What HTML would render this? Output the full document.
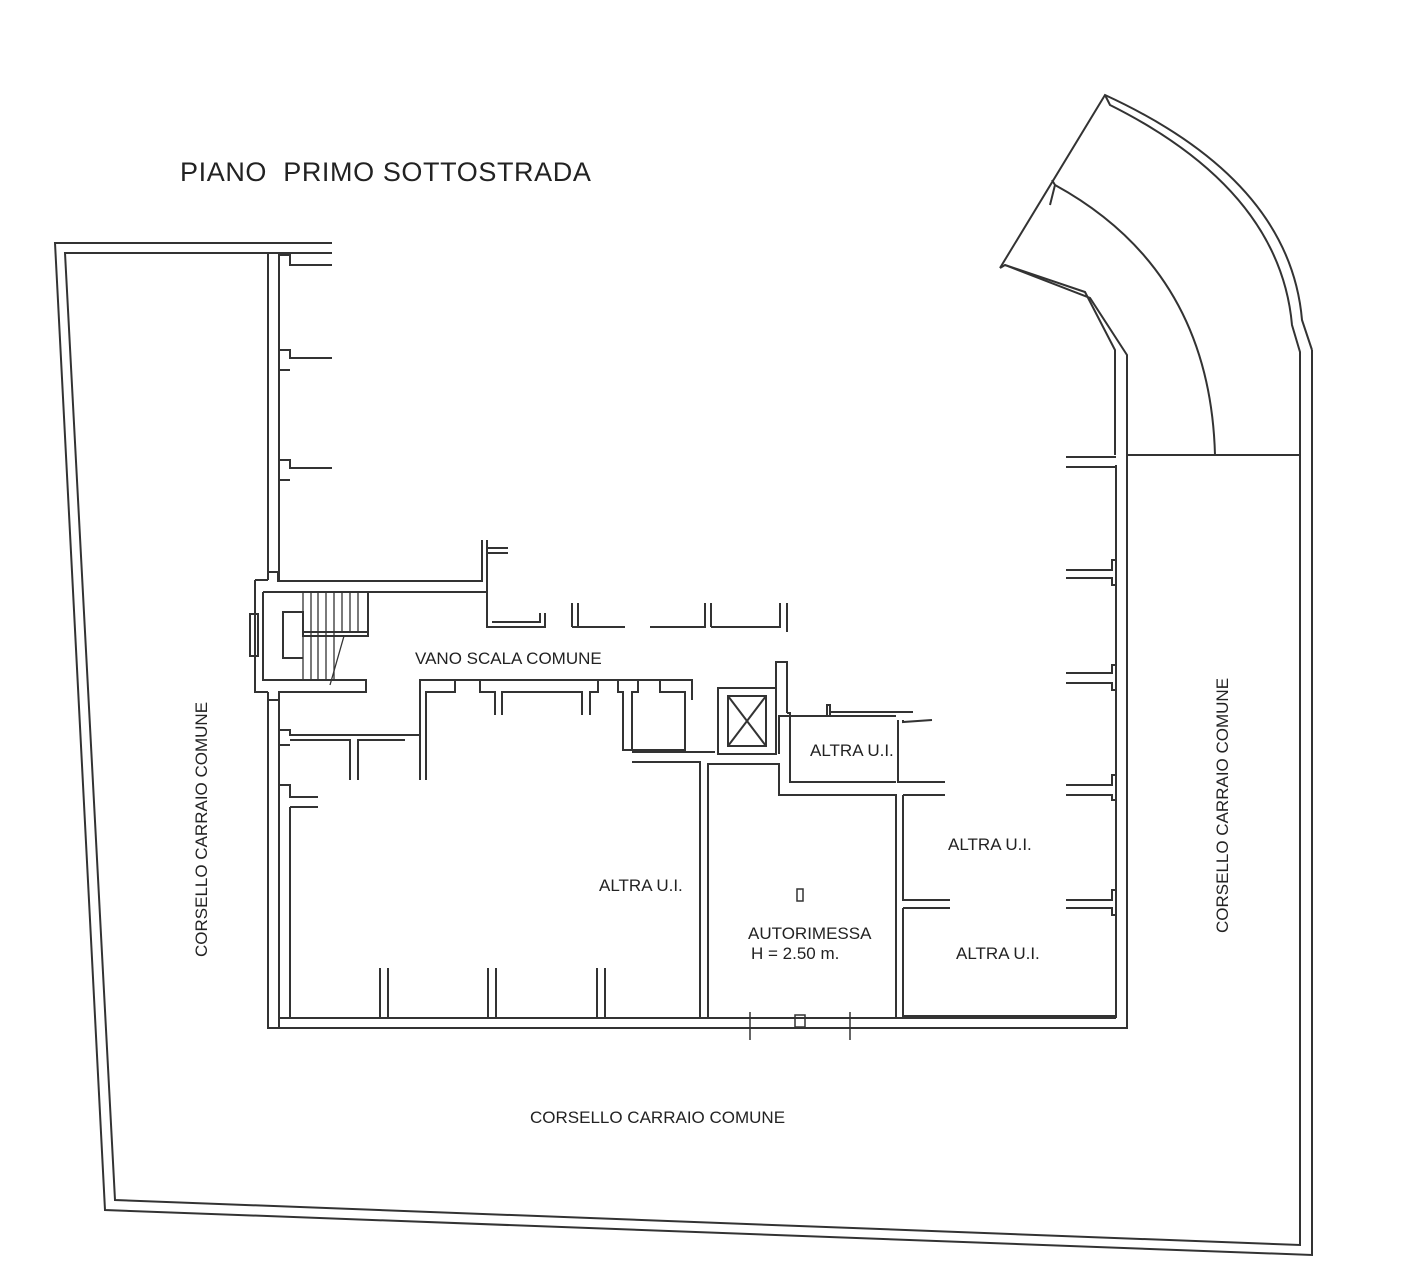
<!DOCTYPE html>
<html><head><meta charset="utf-8"><style>
html,body{margin:0;padding:0;background:#fff}
svg{display:block}
text{font-family:"Liberation Sans",sans-serif;fill:#222}
</style></head><body>
<svg width="1414" height="1280" viewBox="0 0 1414 1280" xmlns="http://www.w3.org/2000/svg" fill="none" stroke="#333" stroke-width="2">
<text x="180" y="181" font-size="27" letter-spacing="0.6" stroke="none" xml:space="preserve">PIANO  PRIMO SOTTOSTRADA</text>

<!-- outer boundary -->
<polyline points="332,243 55,243 105,1210 1312,1255 1312,350"/>
<polyline points="332,253 65,253 115,1200 1300,1245 1300,455"/>

<!-- ramp -->
<path d="M1000,268 L1105,95 Q1290,180 1302,320 L1312,350"/>
<path d="M1105,95 L1110,105 Q1280,190 1292,325 L1300,352 L1300,455"/>
<path d="M1000,268 L1005,265 L1085,292 L1115,350 L1115,455"/>
<path d="M1005,265 L1090,298 L1127,355 L1127,455"/>
<path d="M1055,185 Q1210,270 1215,455"/>
<path d="M1052,180 L1055,185 L1050,205"/>
<line x1="1127" y1="455" x2="1300" y2="455"/>

<!-- building outer walls -->
<polyline points="268,253 268,580"/>
<polyline points="279,253 279,581"/>
<polyline points="268,692 268,1028 1127,1028 1127,455"/>
<polyline points="279,692 279,1018 1116,1018"/>
<line x1="1116" y1="465" x2="1116" y2="1018"/>
<!-- left wall stubs -->
<polyline points="279,255 290,255 290,265 332,265"/><polyline points="279,350 290,350 290,358 332,358 "/><polyline points="290,370 279,370"/>
<polyline points="279,460 290,460 290,468 332,468"/><polyline points="290,480 279,480"/>
<!-- right wall stubs -->
<polyline points="1066,457 1116,457"/><polyline points="1066,467 1116,467"/>
<polyline points="1066,570 1112,570 1112,560 1116,560"/><polyline points="1066,578 1112,578 1112,585 1116,585"/>
<polyline points="1066,673 1112,673 1112,665 1116,665"/><polyline points="1066,683 1112,683 1112,690 1116,690"/>
<polyline points="1066,785 1112,785 1112,775 1116,775"/><polyline points="1066,795 1112,795 1112,800 1116,800"/>
<polyline points="1066,900 1112,900 1112,890 1116,890"/><polyline points="1066,908 1112,908 1112,915 1116,915"/>

<!-- stair box -->
<polyline points="268,580 268,572 278,572 278,581 482,581 482,540"/>
<polyline points="255,580 255,692 268,692"/>
<polyline points="255,580 268,580"/>
<rect x="250" y="614" width="8" height="42"/>
<polyline points="263,592 263,680 366,680 366,692 279,692 279,700 268,700"/>
<polyline points="263,592 487,592 487,540"/>
<polyline points="487,548 508,548"/><polyline points="487,553 508,553"/>
<!-- stairs -->
<polyline points="368,592 368,636 303,636 303,612 283,612 283,658 303,658"/>
<line x1="303" y1="636" x2="368" y2="636"/><line x1="303" y1="632" x2="368" y2="632"/>
<g stroke-width="1.3">
<line x1="303" y1="592" x2="303" y2="680"/><line x1="311" y1="592" x2="311" y2="680"/><line x1="318" y1="592" x2="318" y2="680"/><line x1="326" y1="592" x2="326" y2="680"/><line x1="334" y1="592" x2="334" y2="680"/><line x1="342" y1="592" x2="342" y2="632"/><line x1="350" y1="592" x2="350" y2="632"/><line x1="358" y1="592" x2="358" y2="632"/>
<line x1="344" y1="636" x2="330" y2="685"/>
</g>
<!-- corridor upper walls -->
<polyline points="487,592 487,627 545,627 545,613"/>
<polyline points="540,613 540,622 492,622"/>
<polyline points="572,627 572,603"/><polyline points="578,627 578,603 "/>
<polyline points="572,627 625,627"/><polyline points="650,627 705,627 705,603"/><polyline points="711,627 711,603"/><polyline points="711,627 765,627"/><polyline points="765,627 780,627 780,603"/><polyline points="787,632 787,603"/>
<!-- corridor lower walls -->
<polyline points="420,780 420,680 693,680"/>
<polyline points="426,780 426,692 455,692 455,680"/>
<polyline points="480,680 480,692 495,692 495,715"/><polyline points="502,715 502,692 582,692 582,715"/><polyline points="590,715 590,692 598,692 598,680"/>
<polyline points="618,680 618,692 623,692 623,750 632,750"/><polyline points="632,750 632,692 638,692 638,680"/>
<polyline points="660,680 660,692 685,692 685,750 632,750"/>
<polyline points="692,680 692,700"/>
<!-- lift -->
<rect x="718" y="688" width="58" height="66"/>
<rect x="728" y="696" width="38" height="50"/>
<line x1="728" y1="696" x2="766" y2="746"/><line x1="766" y1="696" x2="728" y2="746"/>
<polyline points="776,688 776,662 787,662 787,713"/><polyline points="787,713 790,713 790,720"/>
<!-- left rooms -->
<polyline points="279,730 290,730 290,735 420,735"/><polyline points="290,745 279,745"/>
<polyline points="290,740 350,740 350,780"/><polyline points="358,780 358,740 405,740"/>
<polyline points="279,785 290,785 290,797 318,797"/><polyline points="290,807 318,807"/><line x1="290" y1="807" x2="290" y2="1018"/><line x1="279" y1="1018" x2="279" y2="1028"/>
<polyline points="380,968 380,1018"/><polyline points="388,968 388,1018"/>
<polyline points="488,968 488,1018"/><polyline points="496,968 496,1018"/>
<polyline points="597,968 597,1018"/><polyline points="605,968 605,1018"/>
<!-- central walls -->
<polyline points="632,762 700,762 700,1018"/>
<polyline points="632,752 715,752 715,752"/>
<polyline points="708,1018 708,764 779,764 779,795 896,795 896,1018"/>
<polyline points="779,754 779,716 896,716"/><polyline points="790,716 790,782 896,782"/>
<polyline points="827,716 827,705 830,705 830,716"/><polyline points="830,712 913,712"/>
<polyline points="898,720 898,782 945,782"/><polyline points="903,720 903,722 932,720"/>
<polyline points="903,795 945,795"/><polyline points="903,795 903,900 950,900"/><polyline points="903,908 950,908"/><polyline points="903,908 903,1016 1116,1016"/>
<rect x="797" y="889" width="6" height="12" stroke-width="1.5"/>
<rect x="795" y="1015" width="10" height="12" stroke-width="1.5"/>
<line x1="750" y1="1012" x2="750" y2="1040" stroke-width="1.5"/><line x1="850" y1="1012" x2="850" y2="1040" stroke-width="1.5"/>

<!-- labels -->
<g stroke="none" font-size="17">
<text x="415" y="664">VANO SCALA COMUNE</text>
<text x="810" y="756">ALTRA U.I.</text>
<text x="948" y="850">ALTRA U.I.</text>
<text x="956" y="959">ALTRA U.I.</text>
<text x="599" y="891">ALTRA U.I.</text>
<text x="748" y="939">AUTORIMESSA</text>
<text x="751" y="959">H = 2.50 m.</text>
<text x="530" y="1123">CORSELLO CARRAIO COMUNE</text>
<text transform="translate(207,957) rotate(-90)">CORSELLO CARRAIO COMUNE</text>
<text transform="translate(1228,933) rotate(-90)">CORSELLO CARRAIO COMUNE</text>
</g>
</svg>
</body></html>
